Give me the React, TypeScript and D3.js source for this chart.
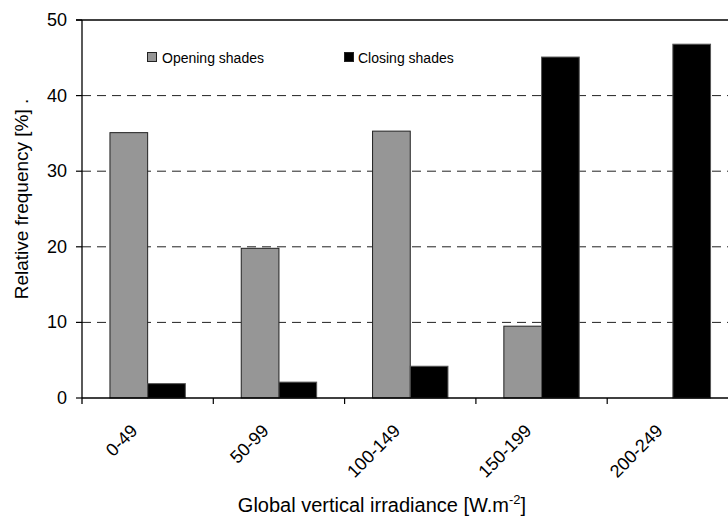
import React from "react";
import * as d3 from "d3";

const categories = ["0-49", "50-99", "100-149", "150-199", "200-249"];
const openingShades = [35.1, 19.8, 35.3, 9.5, 0];
const closingShades = [1.9, 2.1, 4.2, 45.1, 46.8];
const yTicks = [0, 10, 20, 30, 40, 50];
const seriesNames = ["Opening shades", "Closing shades"];

const W = 728;
const H = 520;
const left = 82;
const top = 20;
const bottom = 398;
const catW = 131.3;
const right = left + catW * categories.length;

export default function App() {
  const x = d3.scaleBand<string>().domain(categories).range([left, right]).paddingInner(0).paddingOuter(0);
  const barW = 37.7;
  const off = (x.bandwidth() - 2 * barW) / 2;
  const inner = d3.scaleBand<string>().domain(["o", "c"]).range([off, off + 2 * barW]).padding(0);
  const y = d3.scaleLinear().domain([0, 50]).range([bottom, top]);
  const font = "Liberation Sans, Arial, sans-serif";
  const gray = "#969696";

  return (
    <svg width={W} height={H} style={{ position: "absolute", left: 0, top: 0, background: "#fff" }} fontFamily={font}>
      <rect x={0} y={0} width={W} height={H} fill="#fff" />
      {/* gridlines */}
      {yTicks.filter((t) => t > 0 && t < 50).map((t) => (
        <line key={t} x1={left} x2={right} y1={y(t)} y2={y(t)} stroke="#222" strokeWidth={1} strokeDasharray="9 6" />
      ))}
      <line x1={left - 6} x2={right} y1={y(50)} y2={y(50)} stroke="#000" strokeWidth={1.3} />
      {/* bars */}
      {categories.map((c, i) => (
        <g key={c}>
          {openingShades[i] > 0 && (
            <rect x={x(c)! + inner("o")!} y={y(openingShades[i])} width={inner.bandwidth()} height={y(0) - y(openingShades[i])} fill={gray} stroke="#222" strokeWidth={1} />
          )}
          {closingShades[i] > 0 && (
            <rect x={x(c)! + inner("c")!} y={y(closingShades[i])} width={inner.bandwidth()} height={y(0) - y(closingShades[i])} fill="#000" stroke="#555" strokeWidth={1} />
          )}
        </g>
      ))}
      {/* axes */}
      <line x1={left} x2={left} y1={top} y2={bottom + 6} stroke="#000" strokeWidth={1.3} />
      <line x1={left} x2={right} y1={bottom} y2={bottom} stroke="#000" strokeWidth={1.3} />
      {yTicks.map((t) => (
        <g key={t}>
          <line x1={left - 6} x2={left} y1={y(t)} y2={y(t)} stroke="#000" strokeWidth={1.2} />
          <text x={67} y={y(t)} textAnchor="end" dominantBaseline="central" fontSize={18} fill="#000">{t}</text>
        </g>
      ))}
      {categories.map((c) => (
        <line key={c} x1={x(c)! + x.bandwidth()} x2={x(c)! + x.bandwidth()} y1={bottom} y2={bottom + 6} stroke="#000" strokeWidth={1.2} />
      ))}
      {categories.map((c) => {
        const cx = x(c)! + x.bandwidth() / 2 - 9;
        const cy = 432;
        return (
          <text key={c} x={cx} y={cy} transform={`rotate(-45 ${cx} ${cy})`} textAnchor="end" fontSize={18} fill="#000">{c}</text>
        );
      })}
      {/* axis titles */}
      <text x={382} y={512} textAnchor="middle" fontSize={20} fill="#000">
        Global vertical irradiance [W.m<tspan dy={-8} fontSize={13}>-2</tspan><tspan dy={8}>]</tspan>
      </text>
      <text transform={`translate(28,199) rotate(-90)`} textAnchor="middle" fontSize={19} fill="#000">Relative frequency [%] .</text>
      {/* legend */}
      <rect x={147.5} y={52.5} width={9} height={9} fill={gray} stroke="#222" strokeWidth={1} />
      <text x={162} y={63} fontSize={14} fill="#000">{seriesNames[0]}</text>
      <rect x={344.5} y={52.5} width={9} height={9} fill="#000" stroke="#222" strokeWidth={1} />
      <text x={358} y={63} fontSize={14} fill="#000">{seriesNames[1]}</text>
    </svg>
  );
}
